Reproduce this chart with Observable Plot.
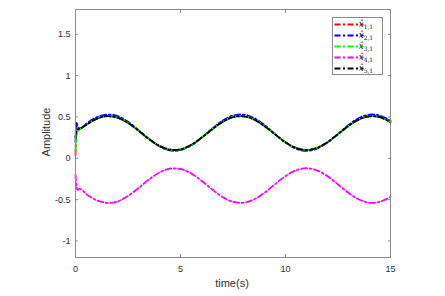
<!DOCTYPE html>
<html><head><meta charset="utf-8">
<script src="https://cdn.jsdelivr.net/npm/d3@7"></script>
<script src="https://cdn.jsdelivr.net/npm/@observablehq/plot@0.6"></script>
<style>body{margin:0;background:#fff}</style>
</head><body><div id="chart"></div>
<script>
const times = [0,0.05,0.1,0.2,0.3,0.5,1,1.5,2,2.5,3,3.5,4,4.5,5,5.5,6,6.5,7,7.5,8,8.5,9,9.5,10,10.5,11,11.5,12,12.5,13,13.5,14,14.5,15];
const x11 = [0.04,0.30,0.33,0.35,0.37,0.403,0.477,0.509,0.491,0.428,0.334,0.233,0.150,0.105,0.108,0.160,0.248,0.349,0.440,0.497,0.508,0.469,0.389,0.290,0.193,0.125,0.100,0.126,0.195,0.291,0.391,0.470,0.508,0.497,0.438];
const x21 = [0.20,0.44,0.38,0.36,0.37,0.415,0.495,0.529,0.510,0.442,0.341,0.233,0.143,0.095,0.099,0.155,0.249,0.357,0.455,0.516,0.528,0.486,0.401,0.294,0.190,0.116,0.090,0.118,0.192,0.295,0.402,0.487,0.528,0.516,0.453];
const x31 = [0.10,0.28,0.32,0.35,0.37,0.403,0.477,0.509,0.491,0.428,0.334,0.233,0.150,0.105,0.108,0.160,0.248,0.349,0.440,0.497,0.508,0.469,0.389,0.290,0.193,0.125,0.100,0.126,0.195,0.291,0.391,0.470,0.508,0.497,0.438];
const x41 = [-0.20,-0.34,-0.38,-0.37,-0.38,-0.431,-0.507,-0.539,-0.521,-0.456,-0.360,-0.256,-0.171,-0.125,-0.129,-0.182,-0.271,-0.375,-0.468,-0.527,-0.538,-0.498,-0.417,-0.314,-0.216,-0.145,-0.120,-0.146,-0.217,-0.316,-0.418,-0.499,-0.538,-0.526,-0.467];
const x51 = [0.25,0.34,0.35,0.36,0.37,0.403,0.477,0.509,0.491,0.428,0.334,0.233,0.150,0.105,0.108,0.160,0.248,0.349,0.440,0.497,0.508,0.469,0.389,0.290,0.193,0.125,0.100,0.126,0.195,0.291,0.391,0.470,0.508,0.497,0.438];
const seriesNames = ["1","2","3","4","5"];
const seriesValues = [x11,x21,x31,x41,x51];
const seriesColors = ["#ff0000","#0000ff","#00ff00","#ff00ff","#000000"];
const xTicks = [0,5,10,15];
const yTicks = [-1,-0.5,0,0.5,1,1.5];

const axisColor = "#8a8a8a";
const textColor = "#303030";
const dash = "6,2.5,2,2.5";

const lines = seriesValues.map((vals, i) =>
  Plot.line(times.map((t, j) => ({t, v: vals[j]})), {
    x: "t", y: "v", stroke: seriesColors[i], strokeWidth: 1.8,
    strokeDasharray: dash, curve: "catmull-rom"
  })
);

const fmt = d => String(d);
const chart = Plot.plot({
  width: 445, height: 296,
  marginLeft: 75, marginRight: 55, marginTop: 9, marginBottom: 39,
  style: {fontFamily: "'Liberation Sans', Arial, sans-serif", fontSize: "9px", color: textColor, background: "#fff"},
  x: {domain: [0, 15], ticks: xTicks},
  y: {domain: [-1.2, 1.8], ticks: yTicks},
  marks: [
    ...lines,
    Plot.frame({stroke: axisColor, strokeWidth: 1}),
    Plot.axisX(xTicks, {anchor: "bottom", tickSize: -3, tickPadding: 11, tickFormat: fmt, stroke: axisColor, fill: textColor, label: null}),
    Plot.axisX(xTicks, {anchor: "top", tickSize: -3, tickFormat: () => "", stroke: axisColor, label: null}),
    Plot.axisY(yTicks, {anchor: "left", tickSize: -3, tickPadding: 8, tickFormat: fmt, stroke: axisColor, fill: textColor, label: null}),
    Plot.axisY(yTicks, {anchor: "right", tickSize: -3, tickFormat: () => "", stroke: axisColor, label: null})
  ]
});
document.getElementById("chart").appendChild(chart);

const svg = d3.select(chart);
// axis titles
svg.append("text").attr("x", 232).attr("y", 287).attr("text-anchor", "middle")
  .attr("font-size", 11).attr("fill", textColor).text("time(s)");
svg.append("text").attr("transform", "translate(50,132) rotate(-90)").attr("text-anchor", "middle")
  .attr("font-size", 11).attr("fill", textColor).text("Amplitude");

// legend
const lg = svg.append("g").attr("font-family", "'DejaVu Serif', 'Liberation Serif', serif").attr("fill", "#202020");
lg.append("rect").attr("x", 332.5).attr("y", 17.5).attr("width", 50).attr("height", 57)
  .attr("fill", "#fff").attr("stroke", axisColor);
seriesNames.forEach((n, i) => {
  const yy = 24.5 + i * 11;
  lg.append("line").attr("x1", 334.5).attr("x2", 363.5).attr("y1", yy).attr("y2", yy)
    .attr("stroke", seriesColors[i]).attr("stroke-width", 1.8).attr("stroke-dasharray", dash);
  const t = lg.append("text").attr("x", 366).attr("y", yy + 2.5);
  t.append("tspan").attr("font-size", 8.5).attr("font-style", "italic").text("x\u0302");
  t.append("tspan").attr("font-size", 6).attr("dy", 2).text(n + ",1");
});
</script></body></html>
